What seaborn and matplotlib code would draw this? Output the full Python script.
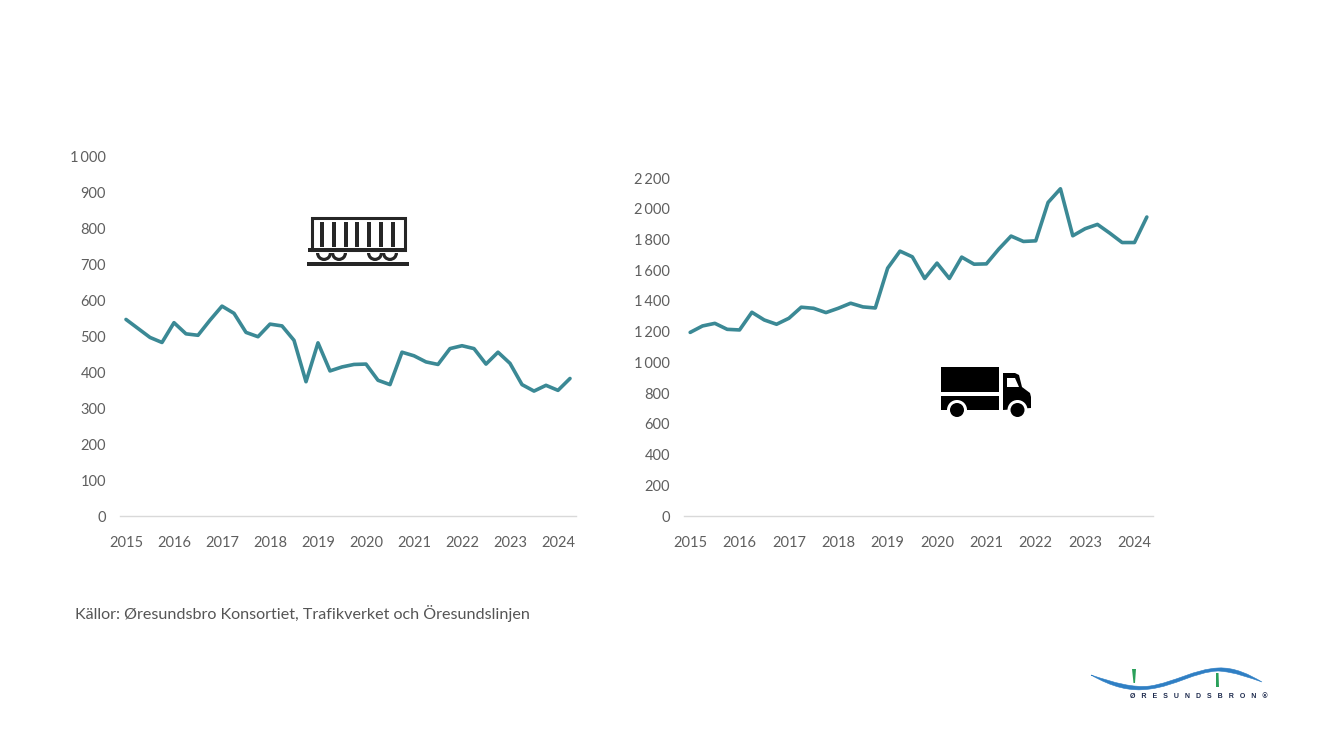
import matplotlib
matplotlib.use('Agg')
import matplotlib.pyplot as plt
from matplotlib.patches import Rectangle, Circle, Polygon, PathPatch, Wedge
from matplotlib.path import Path
import seaborn as sns
import pandas as pd

sns.set_theme(style='white')
plt.rcParams['font.family'] = ['Lato', 'DejaVu Sans']

# quarterly values, 2015 Q1 to 2024 Q2
rail = [546, 521, 496, 482, 537, 506, 502, 544, 583, 563, 510, 498, 533, 528, 488, 373,
        481, 403, 414, 421, 422, 377, 365, 455, 445, 428, 421, 465, 473, 465, 422, 455,
        424, 365, 347, 363, 349, 382]
road = [1195, 1237, 1254, 1215, 1211, 1326, 1276, 1248, 1287, 1359, 1352, 1324, 1352, 1385,
        1361, 1354, 1613, 1724, 1687, 1546, 1646, 1546, 1685, 1639, 1641, 1737, 1822, 1787,
        1791, 2041, 2130, 1824, 1870, 1898, 1841, 1780, 1780, 1946]
years = [2015, 2016, 2017, 2018, 2019, 2020, 2021, 2022, 2023, 2024]
rail_ticks = [0, 100, 200, 300, 400, 500, 600, 700, 800, 900, 1000]
road_ticks = [0, 200, 400, 600, 800, 1000, 1200, 1400, 1600, 1800, 2000, 2200]
source = 'Källor: Øresundsbro Konsortiet, Trafikverket och Öresundslinjen'
logo_text = '   '.join('ØRESUNDSBRON®')

W, H = 1333, 750
LINE = '#3b8995'
TXT = '#5f5f5f'

fig = plt.figure(figsize=(W / 100, H / 100), dpi=100, facecolor='white')


def make_panel(values, ticks, x0, x1, y0, y1):
    ax = fig.add_axes([x0 / W, 1 - y0 / H, (x1 - x0) / W, (y0 - y1) / H])
    df = pd.DataFrame({'q': range(len(values)), 'v': values})
    sns.lineplot(data=df, x='q', y='v', ax=ax, color=LINE, linewidth=2.6)
    ax.set_xlim(-0.5, len(values) - 0.5)
    ax.set_ylim(0, ticks[-1])
    ax.set_xticks([i * 4 for i in range(len(years))])
    ax.set_xticklabels([str(y) for y in years])
    ax.set_yticks(ticks)
    ax.set_yticklabels([f'{t:,}'.replace(',', '\u2009') for t in ticks])
    ax.set_xlabel('')
    ax.set_ylabel('')
    ax.tick_params(axis='both', length=0, labelsize=10.5, labelcolor=TXT)
    ax.tick_params(axis='x', pad=14.5)
    ax.tick_params(axis='y', pad=10)
    ax.patch.set_alpha(0)
    sns.despine(ax=ax, left=True)
    ax.spines['bottom'].set_color('#d9d9d9')
    ax.spines['bottom'].set_linewidth(1.0)
    return ax


make_panel(rail, rail_ticks, 120, 576, 516, 156)
make_panel(road, road_ticks, 684, 1153, 516, 178)

# overlay in pixel coordinates for the icons, source line and logo
ov = fig.add_axes([0, 0, 1, 1], zorder=5)
ov.set_xlim(0, W)
ov.set_ylim(H, 0)
ov.axis('off')
ov.patch.set_alpha(0)

ov.text(75, 613, source, fontsize=11.6, color='#555555', va='center', ha='left')

# rail wagon icon
DARK = '#262626'
ov.add_patch(Rectangle((311.5, 218), 93, 32, fill=False, ec=DARK, lw=2.2))
for bx in [322, 334, 346, 357, 369, 381, 393]:
    ov.add_patch(Rectangle((bx - 1.7, 222), 3.4, 25, fc=DARK, ec='none'))
ov.add_patch(Rectangle((308, 248), 99, 3.5, fc=DARK, ec='none'))
for wx in [324, 339, 375, 390]:
    ov.add_patch(Wedge((wx, 253), 8, 0, 180, width=3.2, fc=DARK, ec='none'))
ov.add_patch(Rectangle((306.5, 261.5), 102, 4, fc=DARK, ec='none'))

# truck icon
ov.add_patch(Rectangle((941, 367), 58, 25, fc='black', ec='none'))
ov.add_patch(Rectangle((941, 395.5), 58, 14.5, fc='black', ec='none'))
ov.add_patch(Polygon([(1003, 373), (1015, 373), (1019, 375), (1022, 387), (1030, 393),
                      (1031, 397), (1031, 408), (1003, 410)], fc='black', ec='none'))
ov.add_patch(Polygon([(1007, 378), (1015, 378), (1019, 387), (1007, 387)], fc='white', ec='none'))
for tx in [957, 1017.5]:
    ov.add_patch(Circle((tx, 410), 10, fc='white', ec='none'))
    ov.add_patch(Circle((tx, 410), 7, fc='black', ec='none'))

# logo
verts = [(1091, 675), (1115, 683), (1133, 688), (1150, 686), (1175, 682), (1195, 669), (1218, 668),
         (1235, 667), (1250, 675), (1262, 682), (1250, 678), (1235, 672), (1218, 671), (1195, 672),
         (1175, 686), (1150, 689), (1130, 692), (1112, 687), (1091, 675)]
codes = [Path.MOVETO] + [Path.CURVE4] * 18
ov.add_patch(PathPatch(Path(verts, codes), fc='#2f7fc4', ec='#2f7fc4', lw=0.4))
ov.add_patch(Polygon([(1132, 669), (1136, 669), (1135, 683), (1133.5, 683)], fc='#2aa05a', ec='none'))
ov.add_patch(Polygon([(1216, 673), (1218.5, 673), (1219, 687), (1216, 687)], fc='#2aa05a', ec='none'))
ov.text(1199, 697, logo_text, fontsize=5, fontweight='bold', color='#1d2a4d',
        ha='center', va='center', family=['Liberation Sans', 'DejaVu Sans'])

fig.savefig('out.png', dpi=100)
